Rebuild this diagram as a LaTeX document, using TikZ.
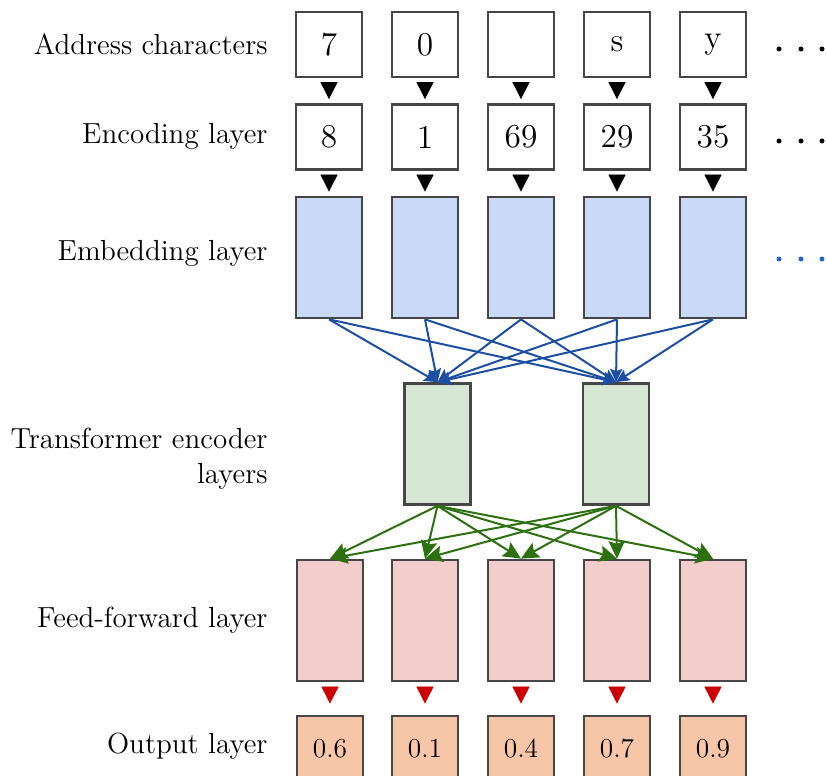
\documentclass[tikz,border=0pt]{standalone}
\usetikzlibrary{arrows.meta}

\definecolor{boxline}{HTML}{464646}
\definecolor{embfill}{HTML}{C9DAF8}
\definecolor{encfill}{HTML}{D6E8D4}
\definecolor{fffill}{HTML}{F3CCCC}
\definecolor{outfill}{HTML}{F7C6A9}
\definecolor{bluearr}{HTML}{1C4FA3}
\definecolor{greenarr}{HTML}{2D700F}
\definecolor{redtri}{HTML}{CC0000}
\definecolor{dotblue}{HTML}{2563C9}

\tikzset{
  base/.style={draw=boxline, line width=1.15pt, inner sep=0pt, minimum width=27.72pt},
  sq/.style={base, minimum height=27.3pt, font=\fontsize{14}{16}\selectfont},
  tall/.style={base, minimum height=50.82pt},
  emb/.style={tall, fill=embfill},
  tenc/.style={tall, fill=encfill},
  ff/.style={tall, fill=fffill},
  outbox/.style={base, minimum height=27.72pt, fill=outfill, font=\fontsize{11.5}{13}\selectfont},
  lab/.style={anchor=east, font=\fontsize{12.2}{14.7}\selectfont, align=right, inner sep=0pt},
  tri/.style={-{Triangle[length=7.14pt,width=7.14pt]}, line width=0.3pt},
  bluearrow/.style={bluearr, line width=0.84pt, -{Stealth[length=5.6pt,width=5.2pt,inset=1pt]}},
  greenarrow/.style={greenarr, line width=0.84pt, -{Stealth[length=7.4pt,width=6.9pt,inset=1.2pt]}},
}

\begin{document}
\begin{tikzpicture}[x=0.42pt, y=-0.42pt]
\useasboundingbox (0,0) rectangle (827,776);

% row labels
\node[lab] (lA) at (268,44) {Address characters};
\node[lab] (lB) at (268,136) {Encoding layer};
\node[lab] (lC) at (268,253) {Embedding layer};
\node[lab] (lD) at (268,459) {Transformer encoder\\layers};
\node[lab] (lE) at (268,620) {Feed-forward layer};
\node[lab] (lF) at (268,746) {Output layer};

% address characters
\node[sq] (a1) at (329,44.5) {7};
\node[sq] (a2) at (425,44.5) {0};
\node[sq] (a3) at (521,44.5) {};
\node[sq] (a4) at (617,44.5) {s};
\node[sq] (a5) at (713,44.5) {y};

% encoding layer
\node[sq] (e1) at (329,137) {8};
\node[sq] (e2) at (425,137) {1};
\node[sq] (e3) at (521,137) {69};
\node[sq] (e4) at (617,137) {29};
\node[sq] (e5) at (713,137) {35};

% embedding layer
\foreach \i/\x in {1/329,2/425,3/521,4/617,5/713}
  \node[emb] (m\i) at (\x,257.5) {};

% transformer encoder layers
\node[tenc] (t1) at (437.5,444) {};
\node[tenc] (t2) at (616,444) {};

% feed-forward layer
\foreach \i/\x in {1/330,2/425,3/521,4/617,5/713}
  \node[ff] (f\i) at (\x,620.5) {};

% output layer
\node[outbox] (o1) at (330,749) {0.6};
\node[outbox] (o2) at (425,749) {0.1};
\node[outbox] (o3) at (521,749) {0.4};
\node[outbox] (o4) at (617,749) {0.7};
\node[outbox] (o5) at (713,749) {0.9};

% continuation dots
\foreach \x in {779,801,822} {
  \fill[black] (\x,49) circle[radius=1.05pt];
  \fill[black] (\x,141) circle[radius=1.05pt];
  \fill[dotblue] (\x,259) circle[radius=1.05pt];
}

% triangle markers between the upper rows and above the outputs
\foreach \i in {1,...,5} {
  \draw[tri, black, shorten <=2.31pt, shorten >=1.68pt] (a\i) -- (e\i);
  \draw[tri, black, shorten <=2.52pt, shorten >=1.68pt] (e\i) -- (m\i);
  \draw[tri, redtri, shorten <=2.94pt, shorten >=4.62pt] (f\i) -- (o\i);
}

% embedding -> transformer
\foreach \i in {1,...,5} {
  \draw[bluearrow] (m\i.south) -- (t1.north);
  \draw[bluearrow] (m\i.south) -- (t2.north);
}

% transformer -> feed-forward
\foreach \i in {1,...,5} {
  \draw[greenarrow] (t1.south) -- (f\i.north);
  \draw[greenarrow] (t2.south) -- (f\i.north);
}
\end{tikzpicture}
\end{document}
